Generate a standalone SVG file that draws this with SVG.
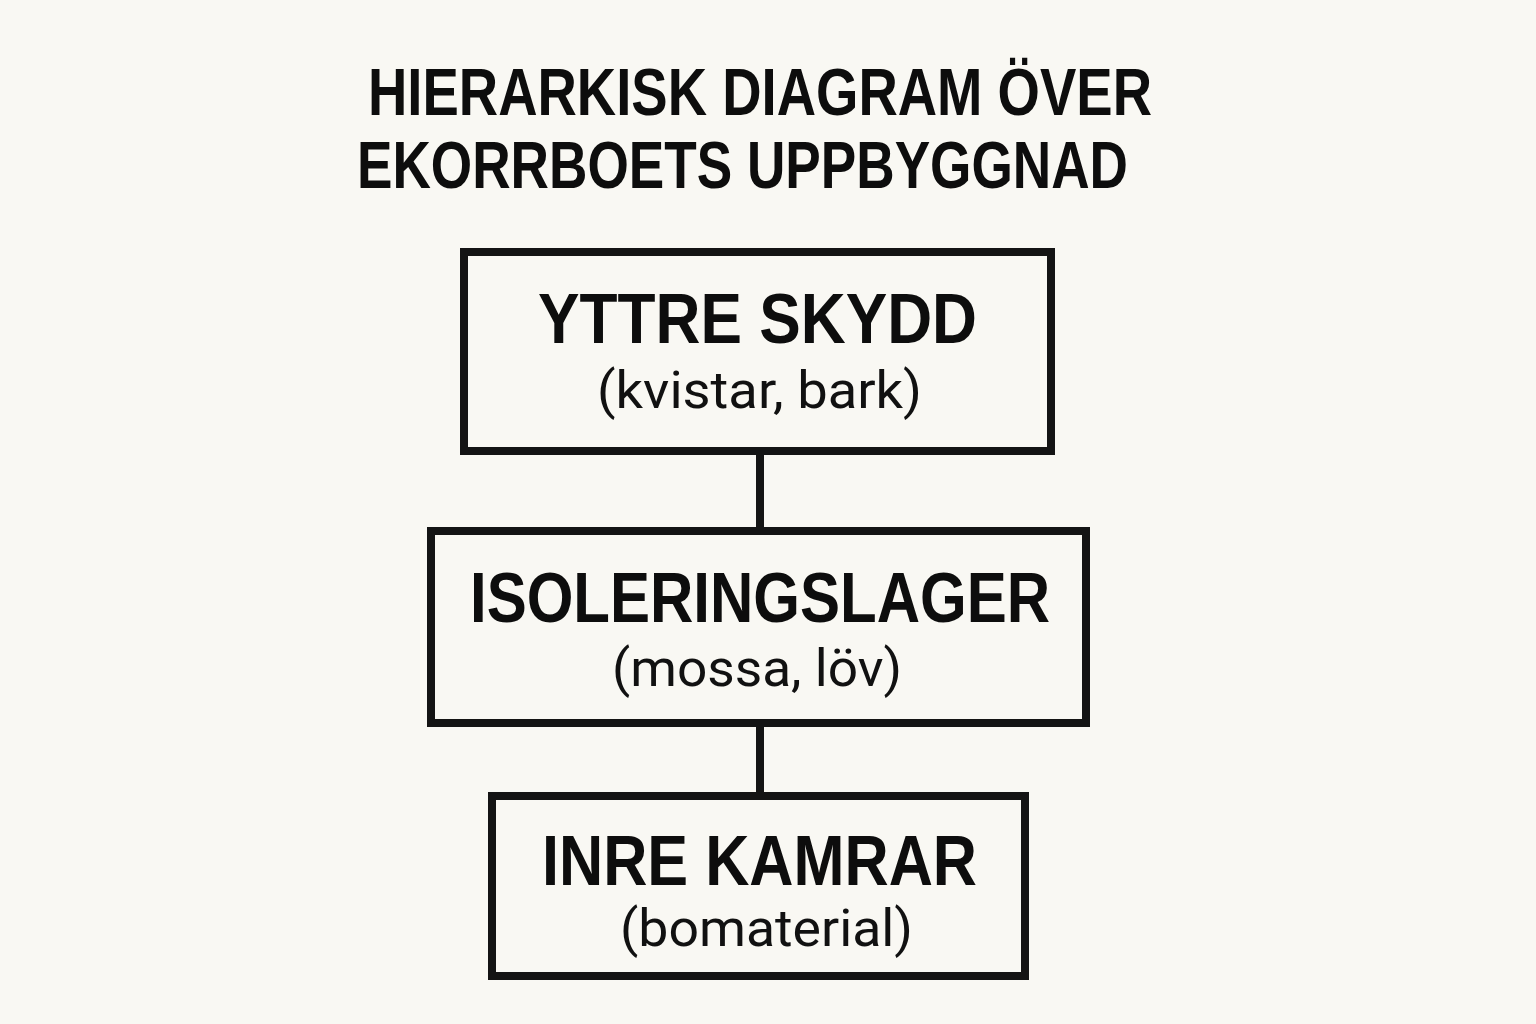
<svg xmlns="http://www.w3.org/2000/svg" width="1536" height="1024" viewBox="0 0 1536 1024">
<style>
.bg{fill:#f9f8f3}
.box{fill:#f9f8f3;stroke:#141414;stroke-width:8}
.conn{stroke:#141414;stroke-width:8;fill:none}
.title{font-family:"Liberation Sans",Arial,sans-serif;font-weight:bold;font-size:66px;fill:#0d0d0d}
.head{font-family:"Liberation Sans",Arial,sans-serif;font-weight:bold;font-size:70px;fill:#0d0d0d}
.sub{font-family:"Roboto","Liberation Sans",sans-serif;font-size:52px;fill:#111}
</style>
<rect class="bg" x="0" y="0" width="1536" height="1024"/>
<g id="title">
<text class="title" x="368" y="115" textLength="784" lengthAdjust="spacingAndGlyphs">HIERARKISK DIAGRAM ÖVER</text>
<text class="title" x="357" y="188" textLength="771" lengthAdjust="spacingAndGlyphs">EKORRBOETS UPPBYGGNAD</text>
</g>
<g id="connectors">
<line class="conn" x1="760" y1="451" x2="760" y2="531"/>
<line class="conn" x1="760" y1="723" x2="760" y2="796"/>
</g>
<g id="node-yttre">
<rect class="box" x="464" y="252" width="587" height="199"/>
<text class="head" x="538" y="343" textLength="439" lengthAdjust="spacingAndGlyphs">YTTRE SKYDD</text>
<text class="sub" x="597" y="408" textLength="325" lengthAdjust="spacingAndGlyphs">(kvistar, bark)</text>
</g>
<g id="node-isolering">
<rect class="box" x="431" y="531" width="655" height="192"/>
<text class="head" x="470" y="622" textLength="580" lengthAdjust="spacingAndGlyphs">ISOLERINGSLAGER</text>
<text class="sub" x="612" y="686" textLength="290" lengthAdjust="spacingAndGlyphs">(mossa, löv)</text>
</g>
<g id="node-inre">
<rect class="box" x="492" y="796" width="533" height="180"/>
<text class="head" x="542" y="885" textLength="435" lengthAdjust="spacingAndGlyphs">INRE KAMRAR</text>
<text class="sub" x="620" y="946" textLength="293" lengthAdjust="spacingAndGlyphs">(bomaterial)</text>
</g>
</svg>
